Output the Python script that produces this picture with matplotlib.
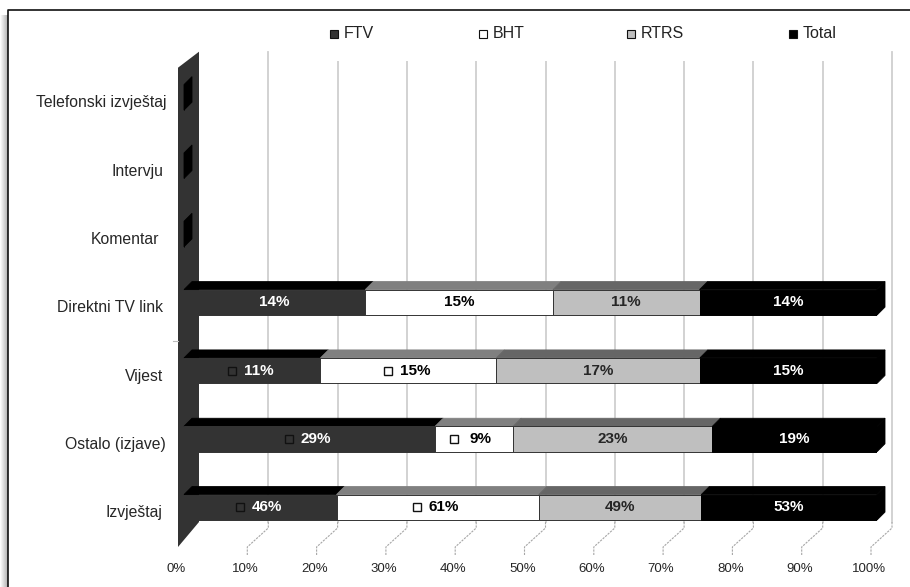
import numpy as np
import matplotlib
matplotlib.use("Agg")
import matplotlib.pyplot as plt
from matplotlib.patches import Polygon, Rectangle
from matplotlib.lines import Line2D
from matplotlib.transforms import Affine2D

categories = ["Izvještaj", "Ostalo (izjave)", "Vijest", "Direktni TV link", "Komentar", "Intervju", "Telefonski izvještaj"]
series_names = ["FTV", "BHT", "RTRS", "Total"]
ftv = [46, 29, 11.4, 14.1, 0, 0, 0]
bht = [61, 9, 14.7, 14.6, 0, 0, 0]
rtrs = [49, 23, 17, 11.4, 0, 0, 0]
total = [53, 19, 14.8, 13.8, 0, 0, 0]
xticks = [0, 10, 20, 30, 40, 50, 60, 70, 80, 90, 100]

face_colors = ["#333333", "#ffffff", "#bfbfbf", "#000000"]
top_colors = ["#000000", "#808080", "#666666", "#000000"]
text_colors = ["#ffffff", "#000000", "#262626", "#ffffff"]
label_nudge = [-1, 3, 0, 0, -4, 0, 3]

plt.rcParams["font.family"] = ["Liberation Sans", "DejaVu Sans"]

W, H = 910, 587
fig = plt.figure(figsize=(W / 100, H / 100), dpi=100)

# outer frame with soft shadow on the left
for i, a in enumerate(np.linspace(0.01, 0.3, 8)):
    fig.add_artist(Rectangle((i / W, 0), 1 / W, 1 - 15 / H, color="k", alpha=a, lw=0))
fig.add_artist(Line2D([8 / W, 8 / W, 1], [0, 1 - 9.5 / H, 1 - 9.5 / H], color="#111111", lw=1.2))

# axes are placed so that 0-100 % maps onto the front face of the bars
ax = fig.add_axes([184 / W, 1 - 541.5 / H, 693 / W, 478.3 / H])
ax.set_xlim(0, 100)
ax.set_ylim(-0.5, 6.5)
ax.patch.set_alpha(0)
for s in ax.spines.values():
    s.set_visible(False)

px = 100 / 693
py = 7 / 478.3

# side wall + gridlines
wall_front = -6 * px
wall_back = 15 * px
wall_low = -0.5 - 5.5 * py
wall_back_low = -0.5 + 19.5 * py
wall_top = 6.5 + 11.5 * py
ax.add_patch(Polygon([(wall_front, wall_low), (wall_back, wall_back_low), (wall_back, wall_top),
                      (wall_front, wall_top - 16 * py)], fc="#333333", ec="none", clip_on=False, zorder=2))
for t in xticks[1:]:
    ax.plot([t + wall_back] * 2, [wall_back_low, wall_top], color="#cfcfcf", lw=1.3, clip_on=False, zorder=1)
    xs = [t + wall_front, t + wall_front, t + wall_back, t + wall_back]
    ys = [wall_low - 8 * py, wall_low, wall_back_low - 6 * py, wall_back_low]
    ax.plot(xs, ys, color="#a6a6a6", lw=0.8, ls=(0, (2, 1)), clip_on=False, zorder=1)
ax.plot([wall_front - 5 * px, wall_front], [2.43, 2.43], color="#bbbbbb", lw=0.8, clip_on=False)

# stacked bars as percentages of each row
values = np.array([ftv, bht, rtrs, total], dtype=float)
row_sum = values.sum(axis=0)
shares = np.divide(values, row_sum, out=np.zeros_like(values), where=row_sum > 0) * 100
ypos = np.arange(len(categories))
bar_h = 25.5 * py
dx = 8 * px
dy = 8 * py

left = np.zeros(len(categories))
for k in range(4):
    ax.barh(ypos, shares[k], left=left, height=bar_h, color=face_colors[k],
            edgecolor="#333333" if k < 3 else "#000000", linewidth=0.7, zorder=4)
    for i in range(len(categories)):
        if values[k, i] == 0:
            continue
        x0, x1 = left[i], left[i] + shares[k, i]
        top = ypos[i] + bar_h / 2
        ax.add_patch(Polygon([(x0, top), (x1, top), (x1 + dx, top + dy), (x0 + dx, top + dy)],
                             fc=top_colors[k], ec=top_colors[k], lw=0.6, zorder=3, clip_on=False))
        txt_x = (x0 + x1) / 2
        # the first two series on the lower rows carry a legend key in the label
        if k < 2 and i < 3:
            ax.plot(txt_x - 20.5 * px, ypos[i], marker="s", ms=6, mfc=face_colors[k],
                    mec="#111111", mew=1, zorder=6)
            txt_x += 6.5 * px
        ax.text(txt_x, ypos[i], f"{values[k, i]:.0f}%", color=text_colors[k], ha="center", va="center",
                fontsize=11, fontweight="bold", zorder=6)
    left += shares[k]

# right end caps, and the flat stubs of the empty rows
for i in range(len(categories)):
    bottom = ypos[i] - bar_h / 2
    top = ypos[i] + bar_h / 2
    x = left[i] if row_sum[i] > 0 else 0
    ax.add_patch(Polygon([(x, bottom), (x + dx, bottom + dy), (x + dx, top + dy), (x, top)],
                         fc="#000000", ec="#000000", lw=0.6, zorder=5, clip_on=False))

ax.set_xticks(xticks)
ax.set_xticklabels([f"{t}%" for t in xticks], fontsize=9.5, color="#262626")
ax.tick_params(axis="x", length=0, pad=15.5)
for lab in ax.get_xticklabels():
    lab.set_transform(lab.get_transform() + Affine2D().translate(-8, 0))
ax.set_yticks(ypos)
ax.set_yticklabels(categories, fontsize=11.3, color="#262626")
ax.tick_params(axis="y", length=0, pad=15)
for lab, n in zip(ax.get_yticklabels(), label_nudge):
    lab.set_transform(lab.get_transform() + Affine2D().translate(n, -4))

# legend across the top, its white box hides the upper end of the inner gridlines
fig.add_artist(Rectangle((300 / W, 1 - 61 / H), 550 / W, 50 / H, color="white", lw=0))
for name, color, lx in zip(series_names, face_colors, [0.367, 0.531, 0.693, 0.871]):
    fig.add_artist(Line2D([lx], [1 - 34 / H], marker="s", ms=5.5, mfc=color, mec="#111111", mew=0.8, ls="none"))
    fig.text(lx + 10 / W, 1 - 34 / H, name, fontsize=11.5, color="#222222", va="center", zorder=3)

fig.savefig("out.png", dpi=100)
